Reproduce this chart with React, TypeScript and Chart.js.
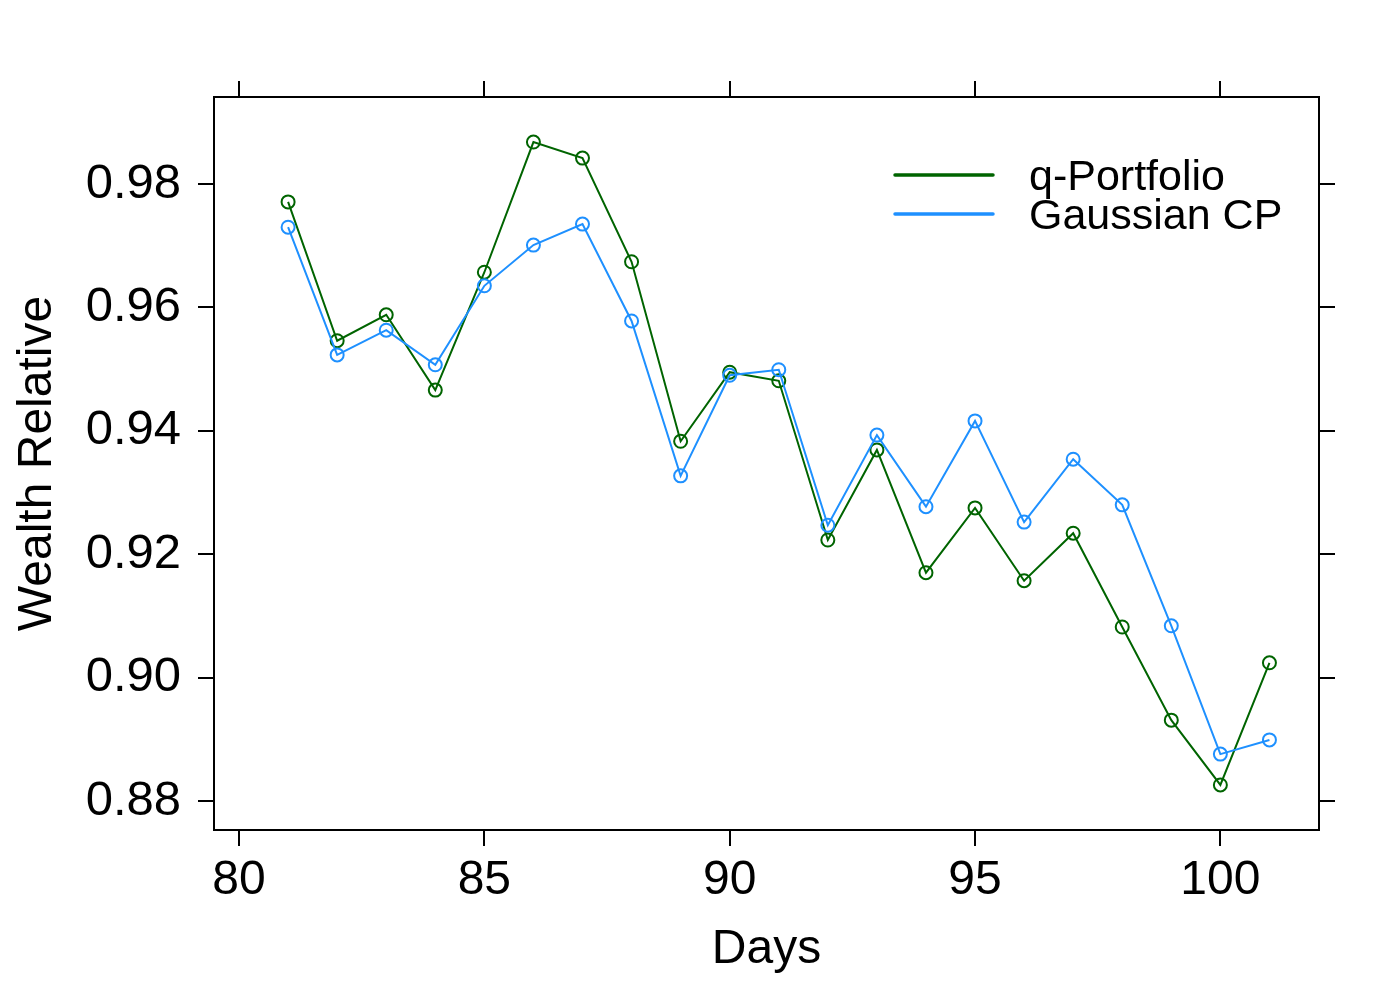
import { useEffect, useRef } from 'react';
import { Chart, registerables } from 'chart.js';
Chart.register(...registerables);

const days = [81, 82, 83, 84, 85, 86, 87, 88, 89, 90, 91, 92, 93, 94, 95, 96, 97, 98, 99, 100, 101];
const qPortfolio = [
  0.9771, 0.9546, 0.9588, 0.9466, 0.9657, 0.9868, 0.9842, 0.9674, 0.9383, 0.9495, 0.9481,
  0.9223, 0.9369, 0.917, 0.9275, 0.9157, 0.9234, 0.9082, 0.8931, 0.8826, 0.9024,
];
const gaussianCP = [
  0.973, 0.9523, 0.9563, 0.9507, 0.9635, 0.9701, 0.9735, 0.9578, 0.9327, 0.949, 0.9499,
  0.9247, 0.9393, 0.9277, 0.9416, 0.9252, 0.9354, 0.928, 0.9084, 0.8876, 0.8899,
];
const xTicks = [80, 85, 90, 95, 100];
const yTicks = [0.88, 0.9, 0.92, 0.94, 0.96, 0.98];

const GREEN = '#006400';
const BLUE = '#1E90FF';
const FONT = "'Liberation Sans', Arial, sans-serif";

const legendItems = [
  { label: 'q-Portfolio', color: GREEN },
  { label: 'Gaussian CP', color: BLUE },
];

// lattice-style key in the upper right corner of the panel
const legendPlugin = {
  id: 'cornerLegend',
  afterDraw(chart: Chart) {
    const ctx = chart.ctx;
    ctx.save();
    ctx.font = `43px ${FONT}`;
    ctx.textBaseline = 'middle';
    ctx.textAlign = 'left';
    legendItems.forEach((it, i) => {
      const y = 175 + i * 39;
      ctx.strokeStyle = it.color;
      ctx.lineWidth = 3.5;
      ctx.lineCap = 'round';
      ctx.beginPath();
      ctx.moveTo(895, y);
      ctx.lineTo(993, y);
      ctx.stroke();
      ctx.fillStyle = '#000';
      ctx.fillText(it.label, 1029, y + 3);
    });
    ctx.restore();
  },
};

const fixedTicks = (vals: number[]) => (scale: any) => {
  scale.ticks = vals.map((v) => ({ value: v }));
};

const frame = {
  drawOnChartArea: false,
  drawTicks: true,
  tickLength: 16,
  tickWidth: 2,
  tickColor: '#000',
  color: '#000',
  lineWidth: 2,
};
const edge = { display: true, color: '#000', width: 2 };

export default function App() {
  const ref = useRef<HTMLCanvasElement | null>(null);
  useEffect(() => {
    if (!ref.current) return;
    const mk = (vals: number[]) => days.map((d, i) => ({ x: d, y: vals[i] }));
    const c = new Chart(ref.current, {
      type: 'line',
      data: {
        datasets: [
          {
            label: 'Gaussian CP',
            data: mk(gaussianCP),
            borderColor: BLUE,
            borderWidth: 2,
            pointRadius: 6.5,
            pointBorderWidth: 2,
            pointBorderColor: BLUE,
            pointBackgroundColor: 'rgba(0,0,0,0)',
            tension: 0,
          },
          {
            label: 'q-Portfolio',
            data: mk(qPortfolio),
            borderColor: GREEN,
            borderWidth: 2,
            pointRadius: 6.5,
            pointBorderWidth: 2,
            pointBorderColor: GREEN,
            pointBackgroundColor: 'rgba(0,0,0,0)',
            tension: 0,
          },
        ],
      },
      options: {
        animation: false,
        responsive: false,
        devicePixelRatio: 1,
        layout: { padding: 0 },
        plugins: { legend: { display: false }, tooltip: { enabled: false } },
        scales: {
          x: {
            type: 'linear',
            position: 'bottom',
            min: 79.49,
            max: 102.01,
            afterBuildTicks: fixedTicks(xTicks),
            afterFit: (s: any) => { s.height = 170; },
            grid: frame,
            border: edge,
            ticks: { color: '#000', padding: 6, font: { family: FONT, size: 48 }, maxRotation: 0 },
            title: {
              display: true,
              text: 'Days',
              color: '#000',
              font: { family: FONT, size: 48, lineHeight: 1 },
              padding: { top: 0, bottom: 26 },
            },
          },
          x2: {
            type: 'linear',
            position: 'top',
            min: 79.49,
            max: 102.01,
            afterBuildTicks: fixedTicks(xTicks),
            afterFit: (s: any) => { s.height = 97; },
            grid: frame,
            border: edge,
            ticks: { display: false },
          },
          y: {
            type: 'linear',
            position: 'left',
            min: 0.8753,
            max: 0.9941,
            afterBuildTicks: fixedTicks(yTicks),
            afterFit: (s: any) => { s.width = 214; },
            grid: frame,
            border: edge,
            ticks: {
              color: '#000',
              padding: 17,
              font: { family: FONT, size: 49 },
              callback: (v: any) => Number(v).toFixed(2),
            },
            title: {
              display: true,
              text: 'Wealth Relative',
              color: '#000',
              font: { family: FONT, size: 48, lineHeight: 1 },
              padding: { top: 14, bottom: 0 },
            },
          },
          y2: {
            type: 'linear',
            position: 'right',
            min: 0.8753,
            max: 0.9941,
            afterBuildTicks: fixedTicks(yTicks),
            afterFit: (s: any) => { s.width = 81; },
            grid: frame,
            border: edge,
            ticks: { display: false },
          },
        },
      },
      plugins: [legendPlugin],
    });
    return () => c.destroy();
  }, []);
  return (
    <div style={{ position: 'absolute', left: 0, top: 0, width: 1400, height: 1000, background: '#fff' }}>
      <canvas ref={ref} width={1400} height={1000} />
    </div>
  );
}
